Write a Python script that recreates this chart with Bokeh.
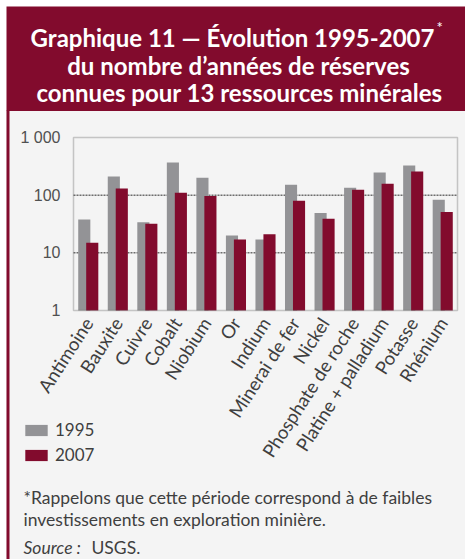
from bokeh.plotting import figure
from bokeh.models import (Range1d, FixedTicker, Label, BoxAnnotation, Legend, LegendItem)
from bokeh.embed import file_html
from bokeh.resources import INLINE

# ---------------- data ----------------
minerals = ["Antimoine", "Bauxite", "Cuivre", "Cobalt", "Niobium", "Or", "Indium",
            "Minerai de fer", "Nickel", "Phosphate de roche", "Platine + palladium",
            "Potasse", "Rhénium"]
reserves_1995 = [38, 210, 34, 367, 200, 20, 17, 152, 49, 134, 246, 326, 83]
reserves_2007 = [15, 130, 32, 110, 97, 17, 21, 80, 39, 124, 158, 256, 51]
series_names = ["1995", "2007"]
y_ticks = [1, 10, 100, 1000]
y_tick_labels = ["1", "10", "100", "1 000"]
grid_values = [10, 100]
title_lines = ["Graphique 11 — Évolution 1995-2007",
               "du nombre d’années de réserves",
               "connues pour 13 ressources minérales"]
note_lines = ["*Rappelons que cette période correspond à de faibles",
              "investissements en exploration minière."]

MAROON = "#820b2d"
GREY = "#939396"
PANEL = "#f4f4f4"
TEXT = "#3f3f3f"
FONT = "Lato"

W, H = 465, 559
# chart frame inside the canvas (canvas px, top-down)
CL, CR, CT, CB = 73, 457, 137, 310

n = len(minerals)
cat_px = (CR - CL) / n
x_lo = -0.5 - CL / cat_px
x_hi = (n - 0.5) + (W - CR) / cat_px
dec_px = (CB - CT) / 3.0
y_lo = 10 ** (0 - (H - CB) / dec_px)
y_hi = 10 ** (3 + CT / dec_px)


def sy(ry):  # top-down canvas y -> screen y (upwards from bottom)
    return H - ry


def screen_box(l, r, t, b, **kw):
    return BoxAnnotation(left=l, right=r, top=sy(t), bottom=sy(b),
                         left_units="screen", right_units="screen",
                         top_units="screen", bottom_units="screen",
                         fill_alpha=1, line_color=None, level="underlay", **kw)


xs = list(range(n))

p = figure(width=W, height=H, x_range=Range1d(x_lo, x_hi),
           y_range=Range1d(y_lo, y_hi), y_axis_type="log",
           output_backend="svg", toolbar_location=None,
           min_border=0, min_border_left=0, min_border_right=0,
           min_border_top=0, min_border_bottom=0)
p.background_fill_color = "white"
p.border_fill_color = "white"
p.outline_line_color = None
p.xgrid.visible = False
p.ygrid.visible = False

# panel, title block, left rule
p.add_layout(screen_box(6, W + 5, 110, H + 5, fill_color=PANEL))
p.add_layout(screen_box(6, W + 5, 6, 110.5, fill_color=MAROON))
p.add_layout(screen_box(6, 9, 110, H + 5, fill_color=MAROON))

# dotted grid lines across the chart
p.segment(x0=-0.5, x1=n - 0.5, y0=grid_values, y1=grid_values,
          line_color="#2a2a2a", line_dash="2 1", line_width=1)

r1 = p.vbar(x=[v - 0.135 for v in xs], top=reserves_1995, bottom=1, width=0.41,
            fill_color=GREY, line_color=None)
r2 = p.vbar(x=[v + 0.135 for v in xs], top=reserves_2007, bottom=1, width=0.41,
            fill_color=MAROON, line_color=None)

# chart frame
p.add_layout(BoxAnnotation(left=-0.5, right=n - 0.5, bottom=y_ticks[0], top=y_ticks[-1],
                           fill_alpha=0, line_color="#555555", line_width=1.5))

ya = p.yaxis[0]
ya.fixed_location = -0.5
ya.ticker = FixedTicker(ticks=y_ticks)
ya.major_label_overrides = {t: l for t, l in zip(y_ticks, y_tick_labels)}
ya.axis_line_color = None
ya.major_tick_line_color = None
ya.minor_tick_line_color = None
ya.major_label_standoff = 7
ya.major_label_text_font = "Liberation Sans"
ya.major_label_text_font_size = "16px"
ya.major_label_text_color = "#505050"

xa = p.xaxis[0]
xa.fixed_location = 1
xa.ticker = FixedTicker(ticks=xs)
xa.major_label_overrides = {i: m for i, m in zip(xs, minerals)}
xa.axis_line_color = None
xa.major_tick_line_color = None
xa.minor_tick_line_color = None
xa.major_label_orientation = 1.0
xa.major_label_standoff = 3
xa.major_label_text_font = FONT
xa.major_label_text_font_size = "18.5px"
xa.major_label_text_color = TEXT

legend = Legend(items=[LegendItem(label=series_names[0], renderers=[r1]),
                       LegendItem(label=series_names[1], renderers=[r2])],
                location=(22, sy(465)), orientation="vertical",
                glyph_width=28, glyph_height=14, label_height=14, spacing=4,
                label_standoff=5, padding=0, margin=0,
                border_line_color=None, background_fill_alpha=0,
                label_text_font=FONT, label_text_font_size="17px",
                label_text_color=TEXT)
p.add_layout(legend, "center")

# title text
for t, base, cx in zip(title_lines, [37, 65, 92], [232, 238, 239]):
    p.add_layout(Label(x=cx, y=sy(base), x_units="screen", y_units="screen",
                       text=t, text_align="center", text_baseline="alphabetic",
                       text_font=FONT, text_font_style="bold",
                       text_font_size="24px", text_color="white"))
p.add_layout(Label(x=436, y=sy(17), x_units="screen", y_units="screen",
                   text="*", text_align="left", text_baseline="top",
                   text_font=FONT, text_font_size="15px", text_color="white"))

# footnote
for t, base in zip(note_lines, [497, 519]):
    p.add_layout(Label(x=23, y=sy(base), x_units="screen", y_units="screen",
                       text=t, text_align="left", text_baseline="alphabetic",
                       text_font=FONT, text_font_size="17.5px", text_color=TEXT))
p.add_layout(Label(x=23, y=sy(547), x_units="screen", y_units="screen",
                   text="Source :", text_align="left", text_baseline="alphabetic",
                   text_font=FONT, text_font_style="italic",
                   text_font_size="17.5px", text_color=TEXT))
p.add_layout(Label(x=91, y=sy(547), x_units="screen", y_units="screen",
                   text="USGS.", text_align="left", text_baseline="alphabetic",
                   text_font=FONT, text_font_size="17.5px", text_color=TEXT))

open("out.html", "w").write(file_html(p, INLINE))
